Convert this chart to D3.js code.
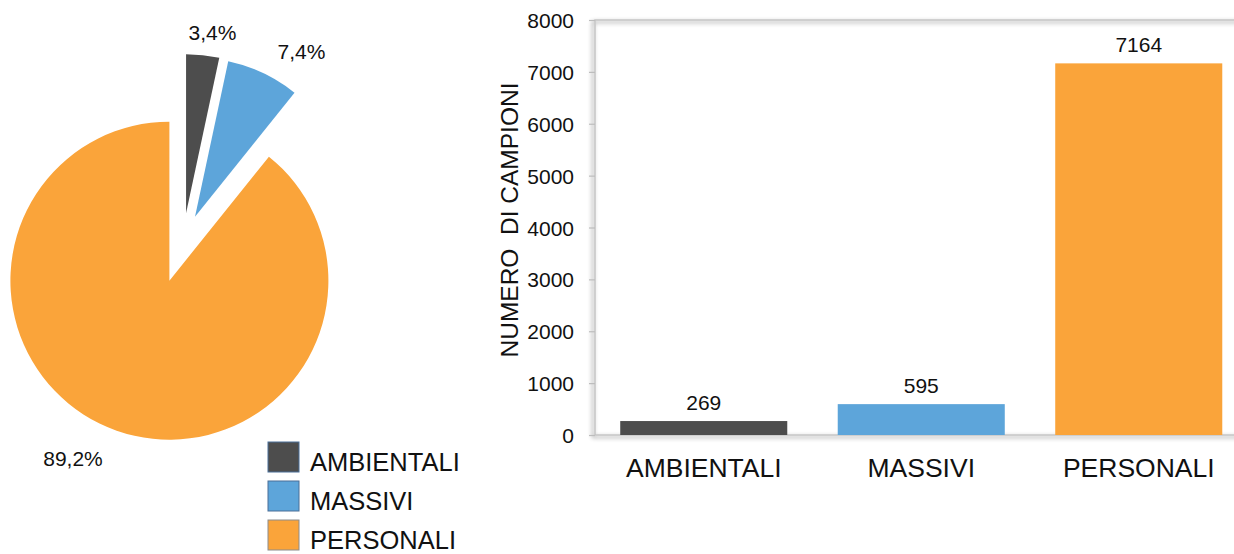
<!DOCTYPE html>
<html>
<head>
<meta charset="utf-8">
<script src="https://cdn.jsdelivr.net/npm/d3@7"></script>
<style>
  html, body { margin: 0; padding: 0; background: #fff; }
  svg { display: block; font-family: "Liberation Sans", Arial, sans-serif; }
</style>
</head>
<body>
<svg id="chart" width="1234" height="554"></svg>
<script>
// ---- data ----
const categories = ["AMBIENTALI", "MASSIVI", "PERSONALI"];
const counts = [269, 595, 7164];
const percentLabels = ["3,4%", "7,4%", "89,2%"];
const colors = ["#4D4D4D", "#5DA5DA", "#FAA43A"];
const yTicks = [0, 1000, 2000, 3000, 4000, 5000, 6000, 7000, 8000];
const yTitle = "NUMERO\u00a0 DI CAMPIONI";

const svg = d3.select("#chart");

// ---- shadow filter ----
const defs = svg.append("defs");
const f = defs.append("filter").attr("id", "shadow")
  .attr("x", "-5%").attr("y", "-5%").attr("width", "110%").attr("height", "110%");
f.append("feDropShadow").attr("dx", -2).attr("dy", 2).attr("stdDeviation", 2)
  .attr("flood-color", "#000").attr("flood-opacity", 0.45);

// ---- PIE ----
const pieCenter = [183, 242];
const pieR = 159;
const explode = [29, 28, 41];
const pie = d3.pie().sort(null).value(d => d)(counts);
const arc = d3.arc().innerRadius(0).outerRadius(pieR);
const pg = svg.append("g").attr("transform", `translate(${pieCenter[0]},${pieCenter[1]})`);
pg.selectAll("path").data(pie).join("path")
  .attr("d", arc)
  .attr("fill", (d, i) => colors[i])
  .attr("transform", (d, i) => {
    const a = (d.startAngle + d.endAngle) / 2;
    return `translate(${Math.sin(a) * explode[i]},${-Math.cos(a) * explode[i]})`;
  });

const pieLabelPos = [[212.5, 40], [301.5, 59], [73, 466]];
svg.append("g").selectAll("text").data(percentLabels).join("text")
  .attr("x", (d, i) => pieLabelPos[i][0])
  .attr("y", (d, i) => pieLabelPos[i][1])
  .attr("text-anchor", "middle")
  .attr("font-size", 21)
  .attr("fill", "#111")
  .text(d => d);

// ---- legend ----
const lg = svg.append("g").attr("transform", "translate(268,442)");
const li = lg.selectAll("g").data(categories).join("g")
  .attr("transform", (d, i) => `translate(0,${i * 39})`);
li.append("rect").attr("width", 31).attr("height", 30)
  .attr("fill", (d, i) => colors[i])
  .attr("stroke", (d, i) => i < 2 ? "#4a6f98" : "#8c8c8c").attr("stroke-width", 1);
li.append("text").attr("x", 42).attr("y", 28.5)
  .attr("font-size", 25.5).attr("fill", "#111").text(d => d);

// ---- BAR ----
const x = d3.scaleBand().domain(categories).range([595, 1247.5])
  .paddingInner(0.232).paddingOuter(0.116);
const y = d3.scaleLinear().domain([0, 8000]).range([435, 20]);

// frame with shadow
svg.append("rect")
  .attr("x", 595).attr("y", y(8000))
  .attr("width", 700).attr("height", y(0) - y(8000))
  .attr("fill", "none").attr("stroke", "#c4c4c4").attr("stroke-width", 1.5)
  .attr("filter", "url(#shadow)");

// y axis
const yAxis = d3.axisLeft(y).tickValues(yTicks).tickSize(6).tickPadding(15)
  .tickFormat(d3.format("d"));
const ya = svg.append("g").attr("transform", "translate(595,0)").call(yAxis);
ya.select(".domain").remove();
ya.selectAll(".tick line").attr("stroke", "#bdbdbd").attr("stroke-width", 1.2);
ya.selectAll(".tick text").attr("font-size", 21).attr("fill", "#111")
  .attr("font-family", "Liberation Sans, Arial, sans-serif").attr("dy", "0.36em");

// bars
svg.append("g").selectAll("rect").data(counts).join("rect")
  .attr("x", (d, i) => x(categories[i]))
  .attr("width", x.bandwidth())
  .attr("y", d => y(d))
  .attr("height", d => y(0) - y(d))
  .attr("fill", (d, i) => colors[i]);

// value labels
svg.append("g").selectAll("text").data(counts).join("text")
  .attr("x", (d, i) => x(categories[i]) + x.bandwidth() / 2)
  .attr("y", d => y(d) - 11)
  .attr("text-anchor", "middle").attr("font-size", 21).attr("fill", "#111")
  .text(d => d);

// x axis labels
const xAxis = d3.axisBottom(x).tickSize(0).tickPadding(0);
const xa = svg.append("g").attr("transform", "translate(0,435)").call(xAxis);
xa.select(".domain").remove();
xa.selectAll(".tick text").attr("font-size", 26.5).attr("fill", "#111")
  .attr("font-family", "Liberation Sans, Arial, sans-serif")
  .attr("y", 42).attr("dy", 0);

// y title
svg.append("text")
  .attr("transform", "translate(518,220) rotate(-90)")
  .attr("text-anchor", "middle").attr("font-size", 24.5).attr("fill", "#111")
  .text(yTitle);
</script>
</body>
</html>
